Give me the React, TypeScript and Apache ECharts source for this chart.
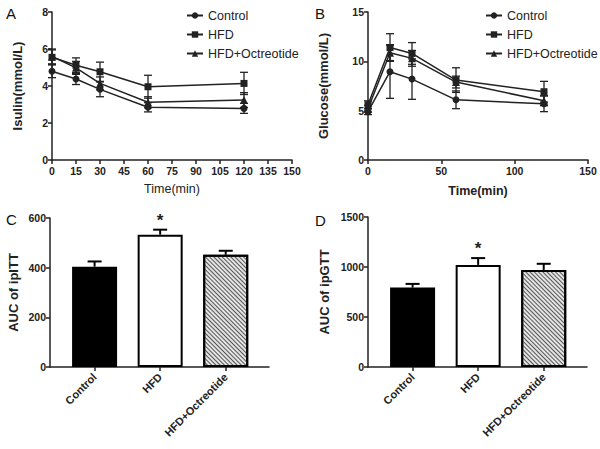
import React, { useEffect, useRef } from "react";
import * as echarts from "echarts";

// ---- Data ----
const times = [0, 15, 30, 60, 120];
const seriesNames = ["Control", "HFD", "HFD+Octreotide"];
const seriesSymbols = ["circle", "rect", "triangle"];

const insulinControl = [4.8, 4.38, 3.82, 2.85, 2.79];
const insulinControlErr = [0.35, 0.3, 0.4, 0.25, 0.27];
const insulinHFD = [5.55, 5.12, 4.77, 3.96, 4.14];
const insulinHFDErr = [0.4, 0.4, 0.52, 0.62, 0.6];
const insulinOct = [5.6, 4.98, 4.14, 3.12, 3.24];
const insulinOctErr = [0.4, 0.35, 0.35, 0.3, 0.4];

const glucoseControl = [4.9, 8.95, 8.2, 6.1, 5.7];
const glucoseControlErr = [0.3, 2.7, 2.05, 0.9, 0.8];
const glucoseHFD = [5.6, 11.4, 10.8, 8.1, 6.92];
const glucoseHFDErr = [0.4, 1.4, 1.1, 1.25, 1.05];
const glucoseOct = [5.2, 10.88, 10.3, 7.9, 6.0];
const glucoseOctErr = [0.35, 0.8, 0.8, 0.6, 0.5];

const barCategories = ["Control", "HFD", "HFD+Octreotide"];
const aucITT = [404, 533, 452];
const aucITTErr = [21, 20, 16];
const aucGTT = [794, 1021, 971];
const aucGTTErr = [37, 68, 61];
const sigMarks = ["", "*", ""];

const FONT = "Liberation Sans";
const INK = "#222";

export default function App() {
  const ref = useRef<HTMLDivElement>(null);
  useEffect(() => {
    if (!ref.current) return;
    document.body.style.margin = "0";
    const chart = echarts.init(ref.current, undefined, { renderer: "svg" });

    const lineErrRender = (params: any, api: any) => {
      const x = api.value(0);
      const y = api.value(1);
      const e = api.value(2);
      const top = api.coord([x, y + e]);
      const bot = api.coord([x, y - e]);
      const h = 4;
      const style = { stroke: INK, lineWidth: 1.3 };
      return {
        type: "group",
        children: [
          { type: "line", shape: { x1: top[0], y1: top[1], x2: bot[0], y2: bot[1] }, style },
          { type: "line", shape: { x1: top[0] - h, y1: top[1], x2: top[0] + h, y2: top[1] }, style },
          { type: "line", shape: { x1: bot[0] - h, y1: bot[1], x2: bot[0] + h, y2: bot[1] }, style },
        ],
      };
    };

    const barErrRender = (params: any, api: any) => {
      const x = api.value(0);
      const y = api.value(1);
      const e = api.value(2);
      const sig = sigMarks[params.dataIndex];
      const top = api.coord([x, y + e]);
      const bot = api.coord([x, y]);
      const h = 7;
      const style = { stroke: "#000", lineWidth: 2 };
      const children: any[] = [
        { type: "line", shape: { x1: top[0], y1: top[1], x2: bot[0], y2: bot[1] }, style },
        { type: "line", shape: { x1: top[0] - h, y1: top[1], x2: top[0] + h, y2: top[1] }, style },
      ];
      if (sig) {
        children.push({
          type: "text",
          x: top[0],
          y: top[1] - 1,
          style: {
            text: sig,
            fill: INK,
            font: `bold 17px ${FONT}`,
            textAlign: "center",
            textVerticalAlign: "bottom",
          },
        });
      }
      return { type: "group", children };
    };

    const axisLineStyle = { lineStyle: { color: INK, width: 1.5 } };
    const tickStyle = { show: true, length: 4, lineStyle: { color: INK, width: 1.5 } };
    const labelStyle = { color: INK, fontFamily: FONT, fontWeight: "bold" as const, fontSize: 10.5 };

    const lineSets = [
      { g: 0, vals: [insulinControl, insulinHFD, insulinOct], errs: [insulinControlErr, insulinHFDErr, insulinOctErr] },
      { g: 1, vals: [glucoseControl, glucoseHFD, glucoseOct], errs: [glucoseControlErr, glucoseHFDErr, glucoseOctErr] },
    ];

    const series: any[] = [];
    lineSets.forEach((set) => {
      set.vals.forEach((vals, i) => {
        series.push({
          type: "custom",
          name: seriesNames[i] + "_err" + set.g,
          xAxisIndex: set.g,
          yAxisIndex: set.g,
          renderItem: lineErrRender,
          data: times.map((t, k) => [t, vals[k], set.errs[i][k]]),
          encode: { x: 0, y: 1 },
          z: 2,
        });
      });
      set.vals.forEach((vals, i) => {
        series.push({
          type: "line",
          name: seriesNames[i],
          xAxisIndex: set.g,
          yAxisIndex: set.g,
          data: times.map((t, k) => [t, vals[k]]),
          symbol: seriesSymbols[i],
          symbolSize: i === 2 ? 8 : 7,
          showSymbol: true,
          lineStyle: { color: INK, width: 1.5 },
          itemStyle: { color: INK },
          z: 3,
        });
      });
    });

    const barSets = [
      { g: 2, vals: aucITT, errs: aucITTErr },
      { g: 3, vals: aucGTT, errs: aucGTTErr },
    ];
    barSets.forEach((set) => {
      series.push({
        type: "bar",
        name: "auc" + set.g,
        xAxisIndex: set.g,
        yAxisIndex: set.g,
        barWidth: 45,
        data: set.vals.map((v, k) => ({
          value: [k, v],
          itemStyle:
            k === 0
              ? { color: "#000", borderColor: "#000", borderWidth: 2 }
              : k === 1
              ? { color: "#fff", borderColor: "#000", borderWidth: 2 }
              : {
                  color: "#e4e4e4",
                  borderColor: "#000",
                  borderWidth: 2,
                  decal: {
                    symbol: "rect",
                    symbolSize: 1,
                    color: "#555",
                    dashArrayX: [1, 0],
                    dashArrayY: [1, 2],
                    rotation: Math.PI / 4,
                  },
                },
        })),
        z: 2,
      });
      series.push({
        type: "custom",
        name: "aucErr" + set.g,
        xAxisIndex: set.g,
        yAxisIndex: set.g,
        renderItem: barErrRender,
        data: set.vals.map((v, k) => [k, v, set.errs[k]]),
        encode: { x: 0, y: 1 },
        z: 1,
      });
    });

    const lineXAxis = (g: number, max: number, interval: number, nameBold: boolean, gap: number) => ({
      type: "value",
      gridIndex: g,
      min: 0,
      max,
      interval,
      name: "Time(min)",
      nameLocation: "middle",
      nameGap: gap,
      nameTextStyle: { color: INK, fontFamily: FONT, fontSize: 12.5, fontWeight: nameBold ? "bold" : "normal" },
      axisLine: axisLineStyle,
      axisTick: tickStyle,
      axisLabel: { ...labelStyle, margin: 5 },
      splitLine: { show: false },
    });

    const barXAxis = (g: number) => ({
      type: "value",
      gridIndex: g,
      min: -0.68,
      max: 2.66,
      axisLine: axisLineStyle,
      axisTick: { ...tickStyle, customValues: [0, 1, 2] },
      axisLabel: {
        ...labelStyle,
        fontSize: 11,
        customValues: [0, 1, 2],
        rotate: 45,
        margin: 8,
        formatter: (v: number) => barCategories[Math.round(v)] ?? "",
      },
      splitLine: { show: false },
    });

    const yAxis = (g: number, max: number, interval: number, name: string, gap: number) => ({
      type: "value",
      gridIndex: g,
      min: 0,
      max,
      interval,
      name,
      nameLocation: "middle",
      nameGap: gap,
      nameTextStyle: { color: INK, fontFamily: FONT, fontSize: 13, fontWeight: "bold" },
      axisLine: { show: true, onZero: false, ...axisLineStyle },
      axisTick: tickStyle,
      axisLabel: { ...labelStyle, margin: 4, formatter: (v: number) => String(v) },
      splitLine: { show: false },
    });

    const legendCommon = {
      orient: "vertical",
      data: seriesNames,
      itemWidth: 16,
      itemHeight: 8,
      itemGap: 6,
      textStyle: { color: INK, fontFamily: FONT, fontSize: 12.5 },
      inactiveColor: "#999",
    };

    const panelLabel = (text: string, x: number, y: number) => ({
      type: "text",
      left: x,
      top: y,
      style: { text, fill: "#111", font: `15px ${FONT}` },
    });

    chart.setOption({
      animation: false,
      backgroundColor: "#fff",
      grid: [
        { left: 52, top: 12, width: 240, height: 148 },
        { left: 368, top: 12, width: 220, height: 148 },
        { left: 50, top: 218, width: 219, height: 149 },
        { left: 368, top: 217, width: 219, height: 150 },
      ],
      xAxis: [
        lineXAxis(0, 150, 15, false, 22),
        lineXAxis(1, 150, 50, true, 24),
        barXAxis(2),
        barXAxis(3),
      ],
      yAxis: [
        yAxis(0, 8, 2, "Isulin(mmol/L)", 28),
        yAxis(1, 15, 5, "Glucose(mmol/L)", 38),
        yAxis(2, 600, 200, "AUC of ipITT", 30),
        yAxis(3, 1500, 500, "AUC of ipGTT", 37),
      ],
      legend: [
        { ...legendCommon, left: 181, top: 4 },
        { ...legendCommon, left: 480, top: 4 },
      ],
      graphic: [
        panelLabel("A", 6, 6),
        panelLabel("B", 315, 6),
        panelLabel("C", 6, 212),
        panelLabel("D", 315, 213),
      ],
      series,
    });

    return () => chart.dispose();
  }, []);

  return <div ref={ref} style={{ width: 600, height: 449 }} />;
}
